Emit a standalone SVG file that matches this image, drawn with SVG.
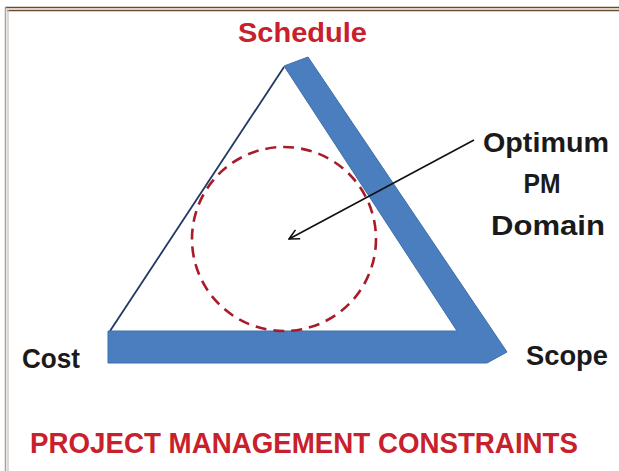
<svg xmlns="http://www.w3.org/2000/svg" width="619" height="471" viewBox="0 0 619 471">
<style>
.lbl{font-family:"Liberation Sans",Arial,sans-serif;font-weight:bold;fill:#1a1a1a}
.red{font-family:"Liberation Sans",Arial,sans-serif;font-weight:bold;fill:#c8202c}
</style>
<defs>
<marker id="arr" viewBox="0 0 12 12" refX="11" refY="6" markerWidth="12" markerHeight="12" markerUnits="userSpaceOnUse" orient="auto">
<path d="M1,1 L11,6 L1,11" fill="none" stroke="#111" stroke-width="1.6"/>
</marker>
</defs>
<rect width="619" height="471" fill="#ffffff"/>
<g id="frame">
<line x1="5" y1="7.5" x2="619" y2="7.5" stroke="#6b4a2c" stroke-width="1.5"/>
<line x1="7" y1="10.5" x2="619" y2="10.5" stroke="#6b4a2c" stroke-width="1.5"/>
<line x1="5.5" y1="7" x2="5.5" y2="471" stroke="#a8a098" stroke-width="1.5"/>
<line x1="8" y1="10" x2="8" y2="471" stroke="#c8c0b8" stroke-width="1.2"/>
</g>
<g id="triangle">
<line x1="284" y1="67" x2="110" y2="331" stroke="#1f3864" stroke-width="1.8"/>
<polygon points="284,66 308,57 507,352 487,363 108,363 108,331 457,331" fill="#4a7ebf" stroke="#3e6fab" stroke-width="1"/>
</g>
<g id="domain">
<circle cx="284" cy="239" r="92" fill="none" stroke="#a81c2a" stroke-width="2.6" stroke-dasharray="11,7"/>
</g>
<g id="connectors">
<line x1="474" y1="140" x2="289" y2="239" stroke="#111" stroke-width="1.6" marker-end="url(#arr)"/>
</g>
<g id="schedule"><text class="red" x="302.5" y="42" font-size="27.5" text-anchor="middle" textLength="129" lengthAdjust="spacingAndGlyphs">Schedule</text></g>
<g id="optimum">
<text class="lbl" x="546" y="152" font-size="27" text-anchor="middle" textLength="126" lengthAdjust="spacingAndGlyphs">Optimum</text>
<text class="lbl" x="542" y="193" font-size="27" text-anchor="middle" textLength="37" lengthAdjust="spacingAndGlyphs">PM</text>
<text class="lbl" x="548" y="235" font-size="27" text-anchor="middle" textLength="114" lengthAdjust="spacingAndGlyphs">Domain</text>
</g>
<g id="cost"><text class="lbl" x="22" y="368" font-size="27" textLength="58" lengthAdjust="spacingAndGlyphs">Cost</text></g>
<g id="scope"><text class="lbl" x="526" y="365" font-size="27" textLength="82" lengthAdjust="spacingAndGlyphs">Scope</text></g>
<g id="title"><text class="red" x="30" y="453" font-size="29" textLength="548" lengthAdjust="spacingAndGlyphs">PROJECT MANAGEMENT CONSTRAINTS</text></g>
</svg>
